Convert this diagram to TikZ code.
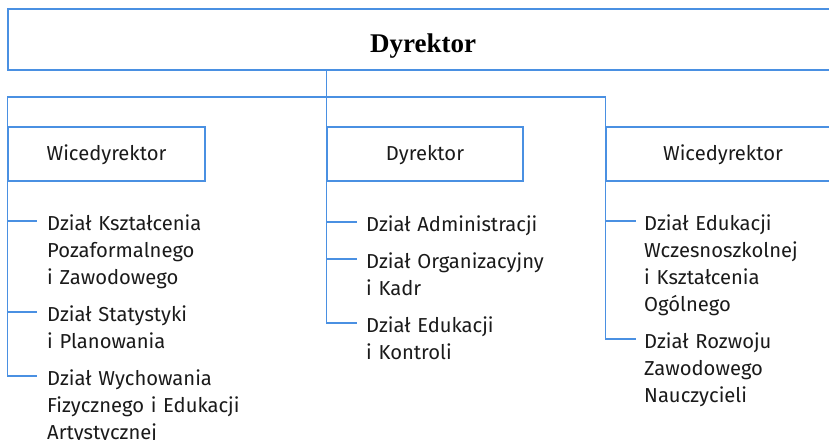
\documentclass[tikz,border=0pt]{standalone}
\usepackage{fontspec}
\setmainfont{Fira Sans}[WordSpace=0.8]
\newfontfamily\titlefont{Liberation Serif}
\begin{document}
\begin{tikzpicture}[x=1pt,y=-1pt]
\definecolor{lineblue}{RGB}{74,144,226}
\definecolor{txt}{RGB}{26,26,26}
\tikzset{
  conn/.style={draw=lineblue, line width=1.3pt},
  box/.style={draw=lineblue, line width=1.3pt, rectangle, inner sep=0pt,
    minimum height=54pt, text height=13.8pt, text depth=0pt,
    font=\fontsize{20.2}{27}\selectfont, text=txt},
  item/.style={anchor=base west, inner sep=0pt, align=left, text width=220pt,
    font=\fontsize{20.2}{27}\selectfont, text=txt},
  title/.style={anchor=base, inner sep=0pt, font=\titlefont\bfseries\fontsize{27}{30}\selectfont, text=black},
}
\useasboundingbox (0,0) rectangle (829,439);
\clip (0,0) rectangle (829,439);

% top box
\node[draw=lineblue, line width=1.3pt, rectangle, inner sep=0pt,
      minimum width=834pt, minimum height=61pt] (top) at (425,39.5) {};
\node[title] (ttl) at (423,52) {Dyrektor};

% second level boxes
\node[box, minimum width=197pt] (left) at (106.5,154) {Wicedyrektor};
\node[box, minimum width=196pt] (mid) at (425,154) {Dyrektor};
\node[box, minimum width=234pt] (right) at (723,154) {Wicedyrektor};

% junction
\coordinate (j) at (327,97);
\draw[conn] (top.south -| mid.west) -- (mid.north west);
\draw[conn] (left.north west) |- (j) -| (right.north west);

% left column
\coordinate (lt1) at (37,221);
\coordinate (lt2) at (37,312);
\coordinate (lt3) at (37,376);
\node[item] (l1) at (47,230.5) {Dział Kształcenia\\Pozaformalnego\\i Zawodowego};
\node[item] (l2) at (47,321.5) {Dział Statystyki\\i Planowania};
\node[item] (l3) at (47,385.5) {Dział Wychowania\\Fizycznego i Edukacji\\Artystycznej};
\draw[conn] (left.south west) |- (lt3);
\draw[conn] (left.west |- lt1) -- (lt1);
\draw[conn] (left.west |- lt2) -- (lt2);

% middle column
\coordinate (mt1) at (357,222);
\coordinate (mt2) at (357,259);
\coordinate (mt3) at (357,323);
\node[item] (m1) at (366,231.5) {Dział Administracji};
\node[item] (m2) at (366,268.5) {Dział Organizacyjny\\i Kadr};
\node[item] (m3) at (366,332.5) {Dział Edukacji\\i Kontroli};
\draw[conn] (mid.south west) |- (mt3);
\draw[conn] (mid.west |- mt1) -- (mt1);
\draw[conn] (mid.west |- mt2) -- (mt2);

% right column
\coordinate (rt1) at (636,221);
\coordinate (rt2) at (636,339);
\node[item] (r1) at (644,230.5) {Dział Edukacji\\Wczesnoszkolnej\\i Kształcenia\\Ogólnego};
\node[item] (r2) at (644,348.5) {Dział Rozwoju\\Zawodowego\\Nauczycieli};
\draw[conn] (right.south west) |- (rt2);
\draw[conn] (right.west |- rt1) -- (rt1);
\end{tikzpicture}
\end{document}
